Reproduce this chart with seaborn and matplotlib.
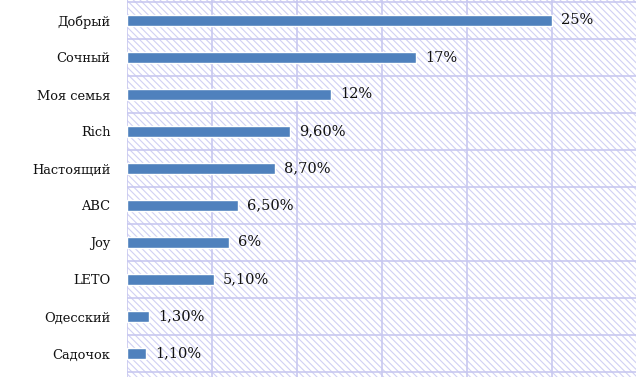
import matplotlib
matplotlib.use("Agg")
import matplotlib.pyplot as plt
from matplotlib.patches import Rectangle
import seaborn as sns

# data
brands = ["Добрый", "Сочный", "Моя семья", "Rich", "Настоящий",
          "ABC", "Joy", "LETO", "Одесский", "Садочок"]
shares = [25, 17, 12, 9.6, 8.7, 6.5, 6, 5.1, 1.3, 1.1]
share_labels = ["25%", "17%", "12%", "9,60%", "8,70%",
                "6,50%", "6%", "5,10%", "1,30%", "1,10%"]

sns.set_style("white")
plt.rcParams["font.family"] = ["DejaVu Serif"]
plt.rcParams["hatch.linewidth"] = 0.8
plt.rcParams["hatch.color"] = "#d0d0f4"

fig = plt.figure(figsize=(6.36, 3.77), dpi=100)
ax = fig.add_axes([127 / 636, 0, 510 / 636, 1])

# hatched background
ax.add_patch(Rectangle((0, 0), 1, 1, transform=ax.transAxes, facecolor="white",
                       edgecolor="#d0d0f4", hatch="\\\\\\\\\\", linewidth=0, zorder=0))

sns.barplot(x=shares, y=brands, orient="h", color="#4f81bd", saturation=1,
            width=0.3, ax=ax, zorder=3)
# make bars the same thickness as in the picture
for p in ax.patches[1:]:
    if hasattr(p, "get_height") and p.get_height() < 1:
        yc = p.get_y() + p.get_height() / 2
        p.set_height(0.3)
        p.set_y(yc - 0.15)

ax.set_xlim(0, 30)
ax.set_ylim(9.5 + 5 / 37, -0.5 - 2 / 37)

# grid lines
for xv in range(0, 31, 5):
    ax.axvline(xv, color="#c8c8f0", linewidth=1.2, zorder=1)
for yv in range(len(brands) + 1):
    ax.axhline(yv - 0.5, color="#c8c8f0", linewidth=1.2, zorder=1)

for i, (v, lab) in enumerate(zip(shares, share_labels)):
    ax.text(v + 0.55, i, lab, va="center", ha="left", fontsize=10.5,
            color="#111111", zorder=4)

ax.set_xticks([])
ax.tick_params(axis="y", length=0, pad=12, labelsize=9.4, labelcolor="#111111")
for s in ax.spines.values():
    s.set_visible(False)
ax.set_xlabel("")
ax.set_ylabel("")

fig.savefig("out.png", dpi=100)
